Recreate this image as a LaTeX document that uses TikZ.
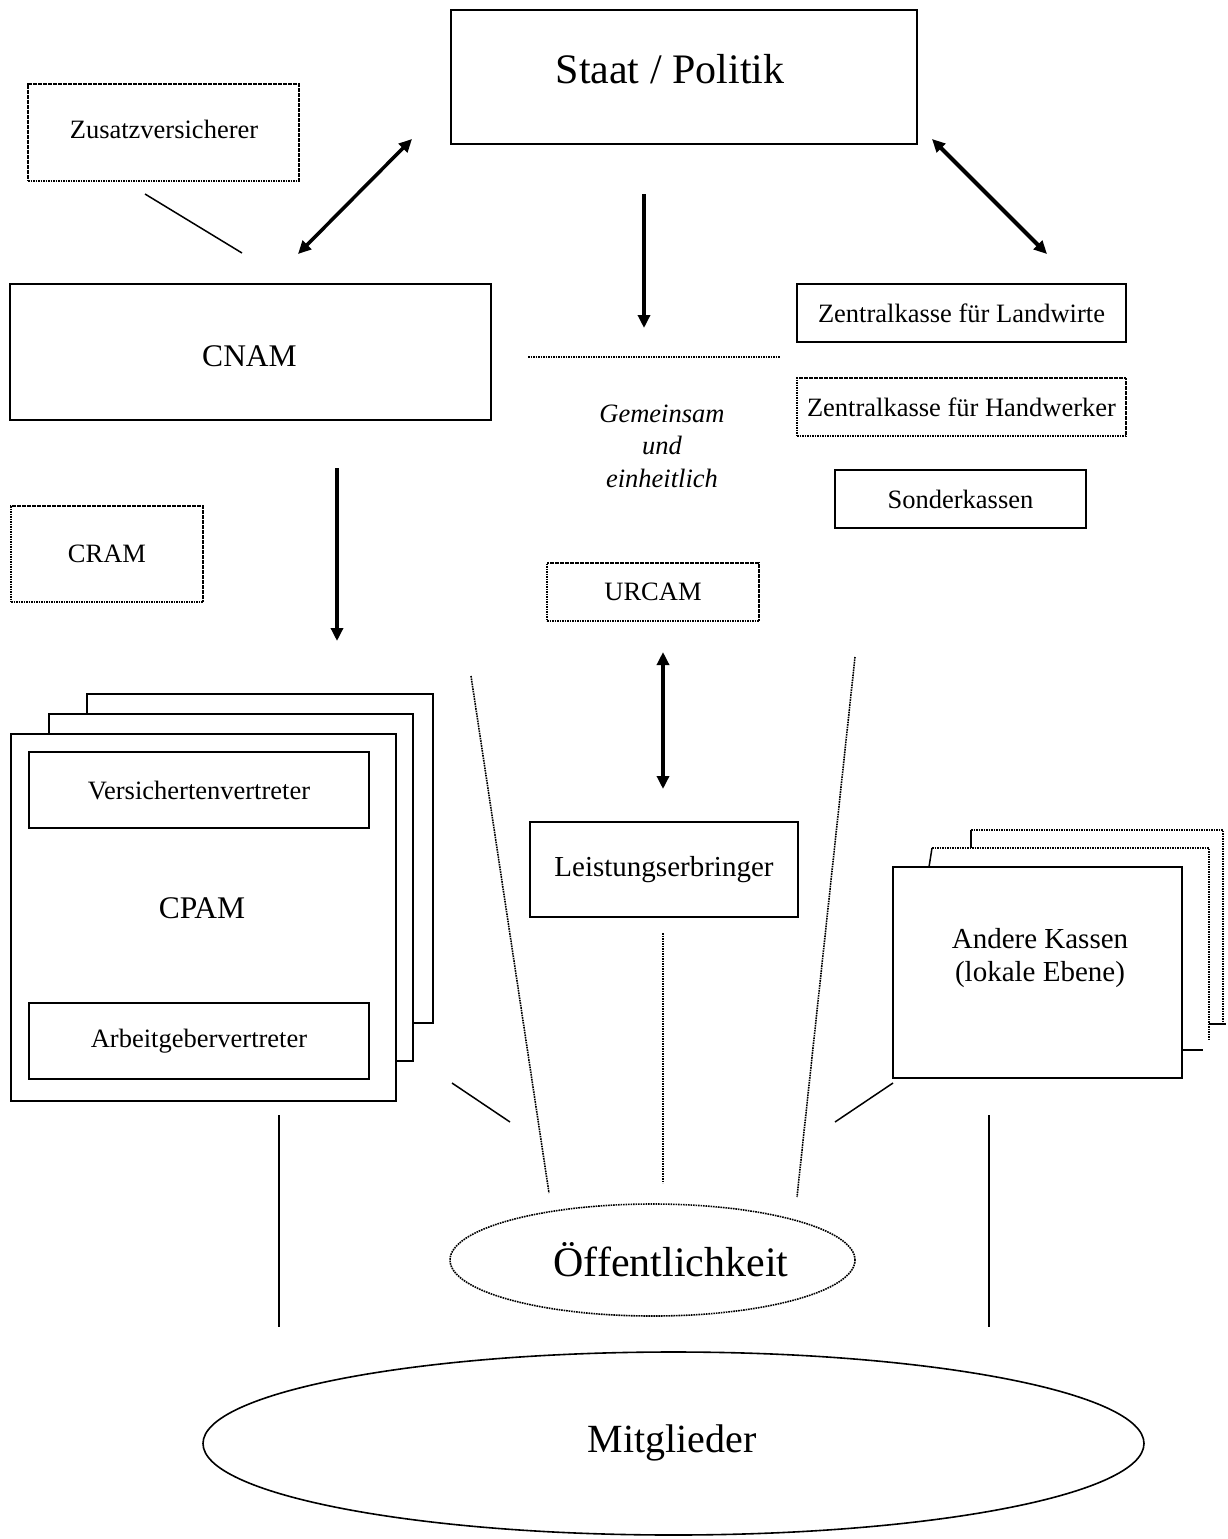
\documentclass[tikz,border=0pt]{standalone}
\usepackage{fontspec}
\setmainfont{Liberation Serif}
\usetikzlibrary{arrows.meta,shapes.geometric}
\newcommand\fbig{\fontsize{42}{50}\selectfont}
\newcommand\fmitg{\fontsize{40}{48}\selectfont}
\newcommand\fcap{\fontsize{31.5}{36}\selectfont}
\newcommand\fmid{\fontsize{29}{32.5}\selectfont}
\newcommand\fsmall{\fontsize{26.5}{32.5}\selectfont}
\tikzset{
  solidbox/.style={draw, line width=1.6pt, inner sep=0pt, fill=white},
  dotbox/.style={draw, line width=1.6pt, dash pattern=on 1.6pt off 0.9pt, inner sep=0pt, fill=white},
  dline/.style={line width=1.6pt, dash pattern=on 1.6pt off 0.9pt},
  sline/.style={line width=1.5pt},
  bigarrow/.style={line width=3.5pt, -{Triangle[length=13pt,width=12pt]}},
  dblarrow/.style={line width=3.5pt, {Triangle[length=13pt,width=12pt]}-{Triangle[length=13pt,width=12pt]}},
  lbl/.style={inner sep=0pt}
}
\begin{document}
\begin{tikzpicture}[x=1pt,y=-1pt]
\useasboundingbox[fill=white] (0,0) rectangle (1228,1539);

% top
\node[solidbox, minimum width=466, minimum height=134] (staat) at (684,77) {};
\node[lbl, font=\fbig] (staatT) at (670,69) {Staat / Politik};
\node[dotbox, minimum width=271, minimum height=97] (zusatz) at (163.5,132.5) {};
\node[lbl, font=\fsmall] (zusatzT) at (164,129) {Zusatzversicherer};
\node[solidbox, minimum width=481, minimum height=136] (cnam) at (250.5,352) {};
\node[lbl, font=\fcap] (cnamT) at (249.5,356) {CNAM};
\node[solidbox, minimum width=329, minimum height=58, font=\fsmall] (landw) at (961.5,313) {Zentralkasse für Landwirte};
\node[dotbox, minimum width=329, minimum height=58, font=\fsmall] (handw) at (961.5,407) {Zentralkasse für Handwerker};
\node[solidbox, minimum width=251, minimum height=58, font=\fsmall] (sonder) at (960.5,499) {Sonderkassen};
\node[lbl, align=center, font=\fsmall\itshape] (gem) at (662,446) {Gemeinsam\\und\\einheitlich};
\node[dotbox, minimum width=192, minimum height=96, font=\fsmall] (cram) at (107,554) {CRAM};
\node[dotbox, minimum width=212, minimum height=58, font=\fsmall] (urcam) at (653,592) {URCAM};

% connectors top
\coordinate (z1) at (145,194); \coordinate (z2) at (242,253);
\draw[sline] (z1) -- (z2);
\coordinate (a1) at (298,254); \coordinate (a2) at (412,139);
\draw[dblarrow] (a1) -- (a2);
\coordinate (b1) at (932,139); \coordinate (b2) at (1047,254);
\draw[dblarrow, line width=4.2pt] (b1) -- (b2);
\coordinate (c1) at (644,194); \coordinate (c2) at (644,328);
\draw[bigarrow] (c1) -- (c2);
\coordinate (h1) at (528,357); \coordinate (h2) at (780,357);
\draw[dline] (h1) -- (h2);
\coordinate (d1) at (337,468); \coordinate (d2) at (337,641);
\draw[bigarrow] (d1) -- (d2);
\coordinate (u1) at (663,652); \coordinate (u2) at (663,789);
\draw[dblarrow] (u1) -- (u2);

% CPAM stack
\node[solidbox, minimum width=346, minimum height=329] (cpam3) at (260,858.5) {};
\node[solidbox, minimum width=364, minimum height=347] (cpam2) at (231,887.5) {};
\node[solidbox, minimum width=385, minimum height=367] (cpam) at (203.5,917.5) {};
\node[solidbox, minimum width=340, minimum height=76, font=\fsmall] (versich) at (199,790) {Versichertenvertreter};
\node[lbl, font=\fcap] (cpamT) at (202,908) {CPAM};
\node[solidbox, minimum width=340, minimum height=76, font=\fsmall] (arbeit) at (199,1041) {Arbeitgebervertreter};

% Leistungserbringer
\node[solidbox, minimum width=268, minimum height=95, font=\fmid] (leist) at (664,869.5) {Leistungserbringer};

% Andere Kassen stack
\fill[white] (971,830) rectangle (1223,1024);
\draw[sline] (971,848) -- (971,830);
\draw[dline] (971,830) -- (1223,830) -- (1223,1024);
\draw[sline] (1209,1024) -- (1226,1024);
\fill[white] (931,848) rectangle (1209,1050);
\draw[sline] (929,867) -- (932,848);
\draw[dline] (932,848) -- (1209,848) -- (1209,1040);
\draw[sline] (1182,1050) -- (1203,1050);
\node[solidbox, minimum width=289, minimum height=211] (andere) at (1037.5,972.5) {};
\node[lbl, align=center, font=\fmid] (andereT) at (1040,958) {Andere Kassen\\(lokale Ebene)};

% lines to Öffentlichkeit
\coordinate (l1) at (471,676); \coordinate (l2) at (549,1193);
\draw[dline] (l1) -- (l2);
\coordinate (r1) at (855,657); \coordinate (r2) at (797,1197);
\draw[dline] (r1) -- (r2);
\coordinate (m1) at (663,933); \coordinate (m2) at (663,1183);
\draw[dline] (m1) -- (m2);
\coordinate (s1) at (452,1083); \coordinate (s2) at (510,1122);
\draw[sline] (s1) -- (s2);
\coordinate (t1) at (835,1122); \coordinate (t2) at (893,1083);
\draw[sline] (t1) -- (t2);
\coordinate (v1) at (279,1115); \coordinate (v2) at (279,1327);
\draw[sline] (v1) -- (v2);
\coordinate (w1) at (989,1115); \coordinate (w2) at (989,1327);
\draw[sline] (w1) -- (w2);

% ellipses
\node[ellipse, draw, line width=1.6pt, dash pattern=on 1.6pt off 0.9pt, inner sep=0pt, minimum width=405, minimum height=112] (oeff) at (652.5,1260) {};
\node[lbl, font=\fbig] (oeffT) at (671,1260) {Öffentlichkeit};
\node[ellipse, draw, line width=1.6pt, inner sep=0pt, minimum width=941, minimum height=183] (mitgl) at (673.5,1443.5) {};
\node[lbl, font=\fmitg] (mitglT) at (672,1443) {Mitglieder};
\end{tikzpicture}
\end{document}
